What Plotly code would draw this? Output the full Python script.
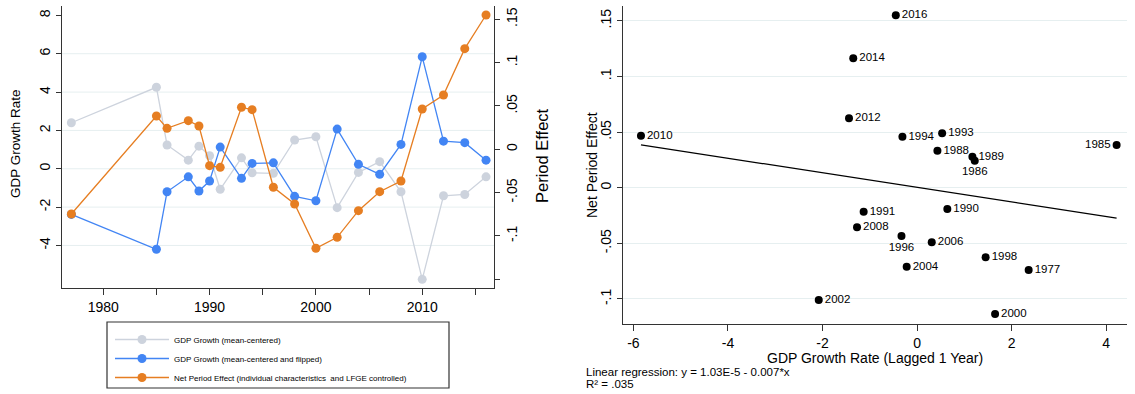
import numpy as np
import plotly.graph_objects as go

W, H = 1135, 394

years = [1977, 1985, 1986, 1988, 1989, 1990, 1991, 1993, 1994, 1996,
         1998, 2000, 2002, 2004, 2006, 2008, 2010, 2012, 2014, 2016]
gdp_centered = [2.40, 4.25, 1.24, 0.45, 1.18, 0.68, -1.07, 0.57, -0.21, -0.24,
                1.50, 1.67, -2.03, -0.19, 0.37, -1.20, -5.77, -1.41, -1.34, -0.42]
gdp_flipped = [-2.38, -4.20, -1.20, -0.42, -1.16, -0.64, 1.13, -0.50, 0.28, 0.31,
               -1.44, -1.67, 2.07, 0.23, -0.29, 1.27, 5.84, 1.44, 1.36, 0.45]
period_effect = [-0.0746, 0.0384, 0.0242, 0.0330, 0.0269, -0.0189, -0.0208, 0.0485, 0.0457, -0.0438,
                 -0.0631, -0.1142, -0.1015, -0.0708, -0.0489, -0.0366, 0.0465, 0.0626, 0.1161, 0.1549]

# scatter: lagged GDP growth vs net period effect
sc_years = ["2010", "2014", "2012", "2016", "1994", "1993", "1988", "1989", "1986", "1985",
            "1991", "1990", "2008", "1996", "2006", "1998", "2004", "1977", "2002", "2000"]
sc_x = [-5.84, -1.35, -1.44, -0.45, -0.31, 0.53, 0.43, 1.17, 1.22, 4.22,
        -1.13, 0.64, -1.27, -0.33, 0.31, 1.45, -0.22, 2.36, -2.08, 1.65]
sc_y = [0.0467, 0.1163, 0.0624, 0.1550, 0.0458, 0.0489, 0.0333, 0.0279, 0.0243, 0.0384,
        -0.0216, -0.0191, -0.0356, -0.0434, -0.0491, -0.0626, -0.0710, -0.0739, -0.1009, -0.1135]
sc_pos = ["middle right"] * 20
sc_pos[sc_years.index("1985")] = "middle left"
sc_pos[sc_years.index("1986")] = "bottom center"
sc_pos[sc_years.index("1996")] = "bottom center"

left_xticks = [1980, 1985, 1990, 1995, 2000, 2005, 2010, 2015]
left_xtext = ["1980", "", "1990", "", "2000", "", "2010", ""]
left_yticks = [-4, -2, 0, 2, 4, 6, 8]
left_ytext = ["-4", "-2", "0", "2", "4", "6", "8"]
left_grid = [-4, -2, 0, 2, 4, 6]
right_yticks = [-0.15, -0.1, -0.05, 0, 0.05, 0.1, 0.15]
right_ytext = ["", "-.1", "-.05", "0", ".05", ".1", ".15"]
sc_xticks = [-6, -4, -2, 0, 2, 4]
sc_xtext = ["-6", "-4", "-2", "0", "2", "4"]
sc_yticks = [-0.1, -0.05, 0, 0.05, 0.1, 0.15]
sc_ytext = ["-.1", "-.05", "0", ".05", ".1", ".15"]

GRAY = "#cdd3dd"
BLUE = "#4285f4"
ORANGE = "#e67e22"
AX = "#333333"
GRID = "#e6eff0"
FONT = "Liberation Sans"

def px(x):
    return x / W

def py(y):
    return 1 - y / H

fig = go.Figure()
line_kw = dict(width=1.3)
fig.add_trace(go.Scatter(x=years, y=gdp_centered, mode="lines+markers", name="GDP Growth (mean-centered)",
                         line=dict(color=GRAY, **line_kw), marker=dict(color=GRAY, size=9),
                         xaxis="x", yaxis="y", legendgroup="a"))
fig.add_trace(go.Scatter(x=years, y=gdp_flipped, mode="lines+markers", name="GDP Growth (mean-centered and flipped)",
                         line=dict(color=BLUE, **line_kw), marker=dict(color=BLUE, size=9),
                         xaxis="x", yaxis="y", legendgroup="b"))
fig.add_trace(go.Scatter(x=years, y=period_effect, mode="lines+markers",
                         name="Net Period Effect (individual characteristics  and LFGE controlled)",
                         line=dict(color=ORANGE, **line_kw), marker=dict(color=ORANGE, size=9),
                         xaxis="x", yaxis="y2", legendgroup="c"))

fig.add_trace(go.Scatter(x=sc_x, y=sc_y, mode="markers+text", text=sc_years, textposition=sc_pos,
                         textfont=dict(family=FONT, size=11.5, color="black"),
                         marker=dict(color="black", size=8), showlegend=False,
                         xaxis="x2", yaxis="y3"))
slope, intercept = np.polyfit(sc_x, sc_y, 1)
lx = np.array([min(sc_x), max(sc_x)])
fig.add_trace(go.Scatter(x=lx, y=intercept + slope * lx, mode="lines", line=dict(color="black", width=1.2),
                         showlegend=False, xaxis="x2", yaxis="y3"))

axis_common = dict(showline=True, linecolor=AX, linewidth=1, ticks="outside", tickcolor=AX,
                   tickfont=dict(family=FONT, size=14, color="black"), zeroline=False, automargin=False)

shapes = []
for v in left_grid:
    shapes.append(dict(type="line", xref="x domain", yref="y", x0=0, x1=1, y0=v, y1=v,
                       line=dict(color=GRID, width=1), layer="below"))
shapes.append(dict(type="rect", xref="paper", yref="paper", x0=px(107), x1=px(449), y0=py(388), y1=py(322),
                   line=dict(color=AX, width=1.2)))

def ann(text, x, y, size, angle=0, xanchor="center"):
    return dict(text=text, x=px(x), y=py(y), xref="paper", yref="paper", textangle=angle,
                xanchor=xanchor, yanchor="middle", showarrow=False,
                font=dict(family=FONT, size=size, color="black"))

annotations = [
    ann("GDP Growth Rate", 15, 144, 13.5, -90),
    ann("Period Effect", 542, 156, 16.5, -90),
    ann("Net Period Effect", 592, 165, 14, -90),
    ann("GDP Growth Rate (Lagged 1 Year)", 875, 358, 14),
    ann("Linear regression: y = 1.03E-5 - 0.007*x", 584, 372, 11.5, xanchor="left"),
    ann("R² = .035", 584, 384, 11.5, xanchor="left"),
]

fig.update_layout(
    width=W, height=H, margin=dict(l=0, r=0, t=0, b=0),
    paper_bgcolor="white", plot_bgcolor="white",
    font=dict(family=FONT, color="black"),
    xaxis=dict(domain=[px(62), px(494)], range=[1976.12, 2016.75], anchor="y",
               tickvals=left_xticks, ticktext=left_xtext, ticklen=6, showgrid=False, **axis_common),
    yaxis=dict(domain=[py(288), py(6)], range=[-6.22, 8.49], anchor="x",
               tickvals=left_yticks, ticktext=left_ytext, tickangle=-90, ticklen=5, showgrid=False,
               **axis_common),
    yaxis2=dict(overlaying="y", side="right", anchor="x", range=[-0.160, 0.1653],
                tickvals=right_yticks, ticktext=right_ytext, tickangle=-90, ticklen=5, showgrid=False,
                **axis_common),
    xaxis2=dict(domain=[px(623), px(1127)], range=[-6.22, 4.44], anchor="y3",
                tickvals=sc_xticks, ticktext=sc_xtext, ticklen=6, showgrid=False, **axis_common),
    yaxis3=dict(domain=[py(324), py(6)], range=[-0.1225, 0.1633], anchor="x2",
                tickvals=sc_yticks, ticktext=sc_ytext, tickangle=-90, ticklen=5,
                showgrid=True, gridcolor=GRID, gridwidth=1, **axis_common),
    legend=dict(x=px(110), y=py(325), xanchor="left", yanchor="top", bgcolor="rgba(0,0,0,0)",
                font=dict(family=FONT, size=8, color="black"), itemwidth=54, tracegroupgap=4,
                traceorder="normal"),
    shapes=shapes, annotations=annotations,
)

fig.write_html("out.html")
